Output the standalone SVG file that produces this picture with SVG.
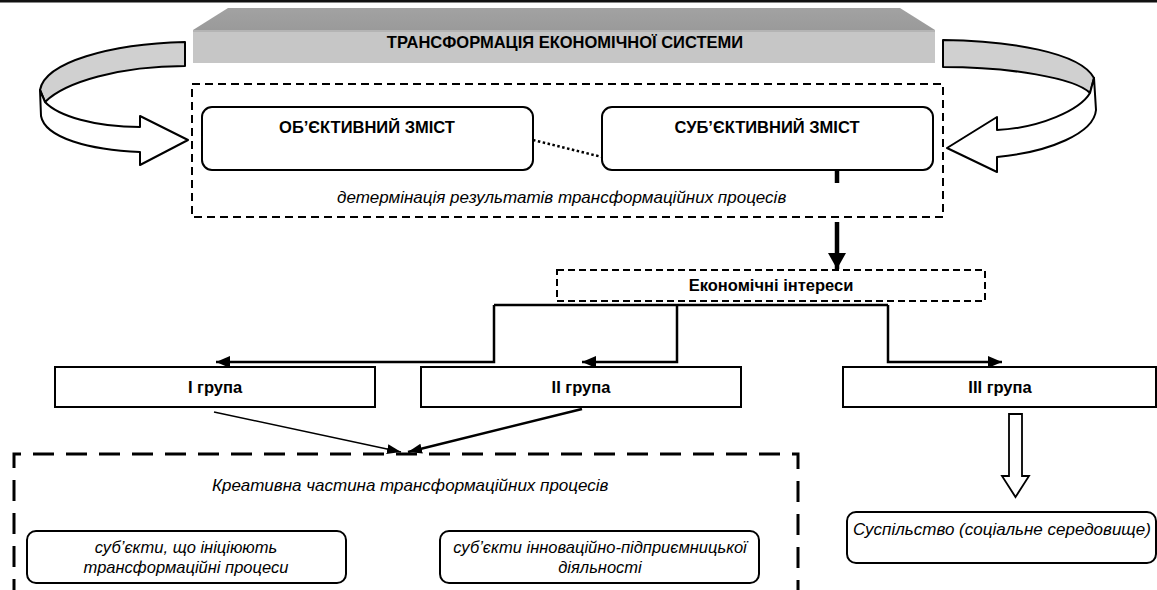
<svg xmlns="http://www.w3.org/2000/svg" width="1157" height="590" viewBox="0 0 1157 590">
<defs>
<style>
.b{font-family:"Liberation Sans",Arial,sans-serif;font-weight:bold;font-size:16.5px;text-anchor:middle;fill:#000}
.i{font-family:"Liberation Sans",Arial,sans-serif;font-style:italic;font-size:17px;fill:#000}
.ic{font-family:"Liberation Sans",Arial,sans-serif;font-style:italic;font-size:16.5px;fill:#000;text-anchor:middle}
.box{fill:#fff;stroke:#000;stroke-width:2}
.rbox{fill:#fff;stroke:#000;stroke-width:2}
.dash1{fill:none;stroke:#000;stroke-width:2;stroke-dasharray:8 5}
.dash2{fill:none;stroke:#000;stroke-width:2;stroke-dasharray:7 4}
.dash3{fill:none;stroke:#000;stroke-width:3;stroke-dasharray:21 12}
.con{fill:none;stroke:#000;stroke-width:2.5}
.thin{fill:none;stroke:#000;stroke-width:1.6}
.rib{stroke:#000;stroke-width:2;stroke-linejoin:round}
</style>
<marker id="ah" markerUnits="userSpaceOnUse" markerWidth="16" markerHeight="12" refX="14" refY="6" orient="auto">
<path d="M0,0 L14,6 L0,12 Z" fill="#000"/>
</marker>
<marker id="ahs" markerUnits="userSpaceOnUse" markerWidth="16" markerHeight="12" refX="14" refY="6" orient="auto">
<path d="M0,1 L14,6 L0,11 Z" fill="#000"/>
</marker>
<marker id="ahb" markerUnits="userSpaceOnUse" markerWidth="20" markerHeight="20" refX="16" refY="10" orient="auto">
<path d="M0,1 L16,10 L0,19 Z" fill="#000"/>
</marker>
<linearGradient id="topg" x1="0" y1="0" x2="0" y2="1">
<stop offset="0" stop-color="#a2a2a2"/>
<stop offset="1" stop-color="#9a9a9a"/>
</linearGradient>
</defs>

<rect x="0" y="0" width="1157" height="2.5" fill="#111"/>

<g id="banner">
<polygon points="193,30 228,8 900,8 935,30" fill="url(#topg)"/>
<rect x="193" y="30" width="742" height="33" fill="#c6c6c6"/>
<rect x="193" y="30" width="742" height="2" fill="#b4b4b4"/>
<text class="b" x="565" y="48">ТРАНСФОРМАЦІЯ ЕКОНОМІЧНОЇ СИСТЕМИ</text>
</g>

<g id="ribbon-left">
<path class="rib" fill="#d0d0d0" d="M185,42 C110,44 45,62 40,90 L45,102 C65,82 120,66 185,66 Z"/>
<path class="rib" fill="#fff" d="M40,90 L45,102 C58,116 95,127 140,127 L140,116 L188,140 L140,165 L140,152 C90,150 45,138 41,116 Z"/>
</g>

<g id="ribbon-right">
<path class="rib" fill="#d0d0d0" d="M943,40 C1010,41 1080,52 1094,78 L1090,93 C1075,78 1010,67 943,67 Z"/>
<path class="rib" fill="#fff" d="M1094,78 L1090,93 C1080,110 1040,128 997,130 L997,117 L947,148 L997,172 L997,157 C1050,152 1094,133 1096,110 Z"/>
</g>

<g id="content-frame">
<rect class="dash1" x="192" y="84" width="751" height="133"/>
<text class="i" x="337" y="203">детермінація результатів трансформаційних процесів</text>
</g>

<g id="objective">
<rect class="rbox" x="202" y="107" width="331" height="63" rx="10"/>
<text class="b" x="367" y="133">ОБ’ЄКТИВНИЙ ЗМІСТ</text>
</g>

<g id="subjective">
<rect class="rbox" x="602" y="107" width="331" height="63" rx="10"/>
<text class="b" x="767" y="133">СУБ’ЄКТИВНИЙ ЗМІСТ</text>
</g>

<g id="interests">
<rect class="dash2" x="557" y="270" width="428" height="31"/>
<text class="b" x="771" y="291">Економічні інтереси</text>
</g>

<g id="group1">
<rect class="box" x="55" y="367" width="320" height="40"/>
<text class="b" x="215" y="393">I група</text>
</g>
<g id="group2">
<rect class="box" x="421" y="367" width="320" height="40"/>
<text class="b" x="581" y="393">II група</text>
</g>
<g id="group3">
<rect class="box" x="843" y="367" width="313" height="40"/>
<text class="b" x="1000" y="393">III група</text>
</g>

<g id="creative">
<path class="dash3" d="M14,600 L14,454 L798,454 L798,600"/>
<text class="i" x="212" y="491">Креативна частина трансформаційних процесів</text>
</g>

<g id="initiators">
<rect class="rbox" x="27" y="531" width="319" height="52" rx="9"/>
<text class="ic" x="186" y="553">суб’єкти, що ініціюють</text>
<text class="ic" x="186" y="573">трансформаційні процеси</text>
</g>

<g id="innovators">
<rect class="rbox" x="440" y="531" width="319" height="52" rx="9"/>
<text class="ic" x="600" y="553">суб’єкти інноваційно-підприємницької</text>
<text class="ic" x="600" y="573">діяльності</text>
</g>

<g id="society">
<rect class="rbox" x="847" y="512" width="309" height="51" rx="9"/>
<text class="i" x="853" y="535">Суспільство (соціальне середовище)</text>
</g>

<g id="connectors">
<line class="con" x1="533" y1="140" x2="602" y2="157" stroke-dasharray="2.5 2.5" stroke-width="3"/>
<line x1="837" y1="170" x2="837" y2="183" stroke="#000" stroke-width="4.5"/>
<line x1="837" y1="222" x2="837" y2="269" stroke="#000" stroke-width="4.5" marker-end="url(#ahb)"/>
<path class="con" d="M494,305 L888,305"/>
<path class="con" d="M494,305 L494,362 L216,362" marker-end="url(#ah)"/>
<path class="con" d="M677,305 L677,362 L582,362" marker-end="url(#ah)"/>
<path class="con" d="M888,305 L888,362 L1002,362" marker-end="url(#ah)"/>
<line class="thin" x1="214" y1="412" x2="401" y2="452" marker-end="url(#ahs)"/>
<line class="con" x1="582" y1="409" x2="408" y2="452" marker-end="url(#ahs)"/>
<polygon points="1009,414 1022,414 1022,476 1029,476 1015.5,497 1002,476 1009,476" fill="#fff" stroke="#000" stroke-width="1.8"/>
</g>
</svg>
